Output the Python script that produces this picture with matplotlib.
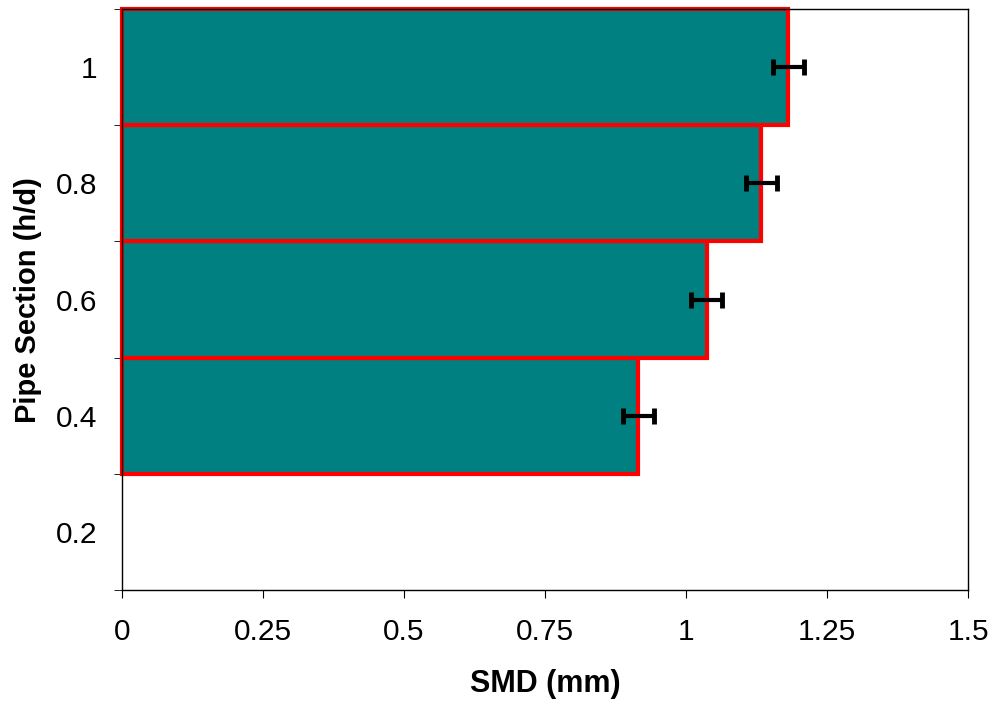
import matplotlib.pyplot as plt
from matplotlib.ticker import FixedLocator

plt.rcParams['font.family'] = ['Liberation Sans', 'DejaVu Sans']

sections = ['0.2', '0.4', '0.6', '0.8', '1']
smd = [0, 0.915, 1.037, 1.133, 1.181]
err = [0, 0.0275, 0.0275, 0.0275, 0.0275]

fig = plt.figure(figsize=(9.95, 7.02), dpi=100)
ax = fig.add_axes([0.1226, 0.1595, 0.8504, 0.8275])

pos = list(range(len(sections)))
for i in pos:
    if smd[i] == 0:
        continue
    ax.barh(i, smd[i], height=1.0, color='#008080', edgecolor='#ff0000',
            linewidth=3, clip_on=False, zorder=2)
    ax.errorbar(smd[i], i, xerr=err[i], fmt='none', ecolor='black',
                elinewidth=3, capsize=6, capthick=3.5, zorder=3)

ax.set_xlim(0, 1.5)
ax.set_ylim(-0.5, 4.5)
ax.set_xticks([0, 0.25, 0.5, 0.75, 1, 1.25, 1.5])
ax.set_xticklabels(['0', '0.25', '0.5', '0.75', '1', '1.25', '1.5'])
ax.set_yticks(pos)
ax.set_yticklabels(sections)
ax.yaxis.set_minor_locator(FixedLocator([-0.5, 0.5, 1.5, 2.5, 3.5, 4.5]))
ax.tick_params(axis='y', which='major', length=0, pad=18, labelsize=21.5)
ax.tick_params(axis='y', which='minor', length=6, direction='out')
ax.tick_params(axis='x', which='major', length=6, direction='out', pad=14, labelsize=21.5)

for s in ax.spines.values():
    s.set_linewidth(1)

ax.set_xlabel('SMD (mm)', fontsize=22, fontweight='bold', labelpad=17)
ax.set_ylabel('Pipe Section (h/d)', fontsize=21, fontweight='bold', labelpad=10)

fig.savefig('out.png', dpi=100)
